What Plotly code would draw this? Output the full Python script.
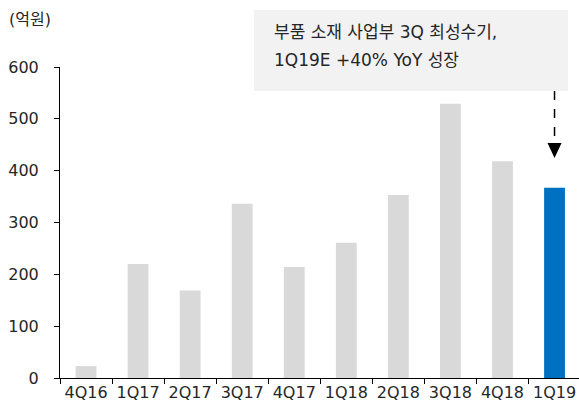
import plotly.graph_objects as go

categories = ["4Q16", "1Q17", "2Q17", "3Q17", "4Q17", "1Q18", "2Q18", "3Q18", "4Q18", "1Q19"]
values = [23, 220, 169, 336, 214, 261, 353, 529, 418, 367]
highlight = "1Q19"
y_ticks = [0, 100, 200, 300, 400, 500, 600]
unit_label = "(억원)"
note_lines = ["부품 소재 사업부 3Q 최성수기,", "1Q19E +40% YoY 성장"]

GRAY = "#d9d9d9"
BLUE = "#0070c0"
FONT = "DejaVu Sans, Noto Sans CJK KR, sans-serif"
TXT = "#262626"

colors = [BLUE if c == highlight else GRAY for c in categories]

fig = go.Figure(go.Bar(x=categories, y=values, marker=dict(color=colors, line=dict(width=0)), width=0.4))

L, R, T, B = 60, 0, 67, 32
W, H = 579, 410
pw, ph = W - L - R, H - T - B

def px_to_paper_x(px):
    return (px - L) / pw

def px_to_paper_y(py):
    return (H - B - py) / ph

hi = categories.index(highlight)

annotations = [
    dict(text=unit_label, xref="paper", yref="paper",
         x=px_to_paper_x(7), y=px_to_paper_y(20),
         xanchor="left", yanchor="middle", showarrow=False,
         font=dict(size=16, color=TXT)),
]
for line, cy in zip(note_lines, [32, 60]):
    annotations.append(dict(text=line, xref="paper", yref="paper",
                            x=px_to_paper_x(272), y=px_to_paper_y(cy),
                            xanchor="left", yanchor="middle", align="left", showarrow=False,
                            font=dict(size=17, color=TXT)))

fig.update_layout(
    width=W, height=H,
    margin=dict(l=L, r=R, t=T, b=B, autoexpand=False),
    plot_bgcolor="white", paper_bgcolor="white",
    showlegend=False,
    font=dict(family=FONT, size=16, color=TXT),
    bargap=0.6,
    xaxis=dict(
        type="category", automargin=False, tickangle=0,
        range=[-0.5, 9.47],
        showline=True, linecolor="#000", linewidth=1,
        ticks="outside", ticklen=5, tickcolor="#000", tickson="boundaries",
        showgrid=False, tickfont=dict(size=16, color=TXT),
    ),
    yaxis=dict(
        automargin=False,
        range=[0, 600], tickvals=y_ticks,
        showline=True, linecolor="#000", linewidth=1,
        ticks="outside", ticklen=5, tickcolor="#000",
        showgrid=False, zeroline=False, tickfont=dict(size=16, color=TXT),
        ticklabelstandoff=12,
    ),
    shapes=[
        dict(type="rect", xref="paper", yref="paper",
             x0=px_to_paper_x(254), x1=px_to_paper_x(568),
             y0=px_to_paper_y(91), y1=px_to_paper_y(10),
             fillcolor="#f2f2f2", line=dict(width=0), layer="below"),
        dict(type="line", xref="x", yref="paper",
             x0=hi, x1=hi, y0=px_to_paper_y(91), y1=px_to_paper_y(143),
             line=dict(color="#000", width=1.5, dash="dash")),
        dict(type="path", xref="x", yref="paper",
             xsizemode="pixel", ysizemode="pixel",
             xanchor=hi, yanchor=px_to_paper_y(143),
             path="M -7,0 L 7,0 L 0,-15 Z",
             fillcolor="#000", line=dict(width=0)),
    ],
    annotations=annotations,
)

fig.write_html("out.html", config={"displayModeBar": False},
               post_script="document.body.style.margin='0';")
